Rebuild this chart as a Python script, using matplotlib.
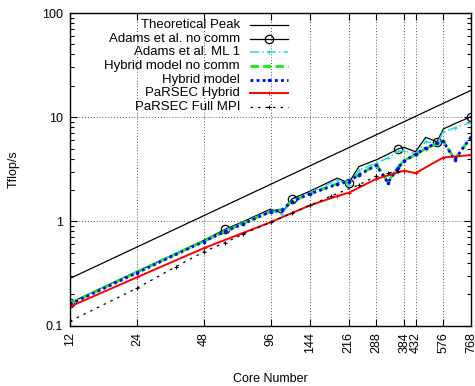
import matplotlib
matplotlib.use('Agg')
import matplotlib.pyplot as plt
from matplotlib.lines import Line2D
import matplotlib.ticker as mticker

plt.rcParams['font.family'] = ['Liberation Sans', 'DejaVu Sans']
plt.rcParams['font.size'] = 8.5

# x ticks shown on the axis
tick_cores = [12, 24, 48, 96, 144, 216, 288, 384, 432, 576, 768]

# theoretical peak (straight line)
peak_cores = [12, 768]
peak = [0.283, 18.1]

# Adams / hybrid model runs
cores = [12, 24, 48, 60, 72, 96, 108, 120, 144, 192, 216, 240, 288, 324, 360, 384, 432, 480, 540, 576, 648, 768]
adams_nocomm = [0.165, 0.33, 0.655, 0.84, 0.99, 1.31, 1.2, 1.645, 1.94, 2.6, 2.33, 3.35, 3.9, 4.4, 4.95, 5.13, 4.65, 6.4, 5.8, 7.7, 8.65, 10.1]
adams_ml1 = [0.165, 0.33, 0.65, 0.82, 0.97, 1.27, 1.18, 1.58, 1.88, 2.5, 2.25, 3.1, 3.63, 4.05, 4.7, 4.75, 4.45, 5.85, 5.55, 7.2, 7.9, 8.9]
hybrid_nocomm = [0.162, 0.325, 0.645, 0.8, 0.95, 1.24, 1.3, 1.56, 1.84, 2.3, 2.42, 2.8, 3.5, 2.4, 3.3, 3.85, 4.35, 5.0, 5.6, 5.9, 3.95, 6.4]
hybrid = [0.16, 0.32, 0.64, 0.8, 0.94, 1.24, 1.28, 1.55, 1.83, 2.27, 2.41, 2.8, 3.45, 2.35, 3.25, 3.8, 4.4, 5.05, 5.65, 5.85, 3.9, 6.45]
circle_idx = [0, 3, 7, 10, 14, 18, 21]

# PaRSEC runs
cores_parsec = [12, 24, 48, 96, 144, 192, 216, 288, 384, 432, 576, 768]
parsec_hybrid = [0.152, 0.29, 0.552, 0.98, 1.42, 1.75, 1.88, 2.56, 3.07, 2.9, 4.1, 4.33]
cores_mpi = [12, 24, 36, 48, 60, 72, 96, 120, 144, 180, 240, 288, 324, 360]
parsec_mpi = [0.11, 0.228, 0.367, 0.51, 0.625, 0.753, 0.98, 1.2, 1.42, 1.75, 2.24, 2.72, 2.9, 3.07]

fig = plt.figure(figsize=(4.75, 3.86), dpi=100)
ax = fig.add_axes([70 / 475, 1 - 325.5 / 386, 401 / 475, 312.5 / 386])

styles = [
    dict(color='black', lw=0.9, ls='-'),
    dict(color='black', lw=0.9, ls='-', marker='o', ms=6, mfc='none', mew=0.9),
    dict(color='#22dddd', lw=1.1, ls=(0, (6, 2, 1, 2)), marker='+', ms=3, mew=0.8),
    dict(color='#11ee11', lw=2.0, ls=(0, (3, 1.5)), marker='+', ms=3, mew=1),
    dict(color='#0000ff', lw=2.0, ls=(0, (1, 1.2)), marker='o', ms=2.5, mew=0),
    dict(color='#ff0000', lw=1.4, ls='-', marker='+', ms=3, mew=0.8),
    dict(color='black', lw=0.9, ls=(0, (2, 4)), marker='+', ms=3, mew=0.8),
]
labels = ["Theoretical Peak", "Adams et al. no comm", "Adams et al. ML 1",
          "Hybrid model no comm", "Hybrid model", "PaRSEC Hybrid", "PaRSEC Full MPI"]

ax.plot(peak_cores, peak, **styles[0])
ax.plot(cores, adams_nocomm, markevery=circle_idx, **styles[1])
ax.plot(cores, adams_ml1, **styles[2])
ax.plot(cores, hybrid_nocomm, **styles[3])
ax.plot(cores, hybrid, **styles[4])
ax.plot(cores_parsec, parsec_hybrid, **styles[5])
ax.plot(cores_mpi, parsec_mpi, **styles[6])

ax.set_xscale('log')
ax.set_yscale('log')
ax.set_xlim(12, 768)
ax.set_ylim(0.1, 100)

ax.xaxis.set_major_locator(mticker.FixedLocator(tick_cores))
ax.xaxis.set_major_formatter(mticker.FixedFormatter([str(c) for c in tick_cores]))
ax.xaxis.set_minor_locator(mticker.NullLocator())
ax.yaxis.set_major_locator(mticker.FixedLocator([0.1, 1, 10, 100]))
ax.yaxis.set_major_formatter(mticker.FixedFormatter(['0.1', '1', '10', '100']))
ax.yaxis.set_minor_locator(mticker.LogLocator(base=10, subs=range(2, 10)))
ax.yaxis.set_minor_formatter(mticker.NullFormatter())

ax.tick_params(which='both', direction='in', top=True, right=True, width=0.8)
ax.tick_params(which='major', length=5, pad=5, labelsize=9)
ax.tick_params(which='minor', length=3)
for lbl in ax.get_xticklabels():
    lbl.set_rotation(90)

ax.grid(True, which='major', color='#555555', ls=(0, (1, 2)), lw=0.7)
for s in ax.spines.values():
    s.set_linewidth(1.0)

ax.set_xlabel("Core Number", fontsize=9, labelpad=14)
ax.set_ylabel("Tflop/s", fontsize=9, labelpad=16)

# gnuplot style key: right aligned text, sample line on the right
y0 = 0.9616
dy = 0.0438
for i, (lab, st) in enumerate(zip(labels, styles)):
    y = y0 - i * dy
    ax.text(0.424, y, lab, transform=ax.transAxes, ha='right', va='center', fontsize=9.5)
    st = dict(st)
    mk = st.pop('marker', None)
    ms = st.pop('ms', None)
    mfc = st.pop('mfc', None)
    mew = st.pop('mew', None)
    ax.add_line(Line2D([0.449, 0.544], [y, y], transform=ax.transAxes, **st))
    if mk is not None:
        kw = dict(color=st['color'], marker=mk, ms=ms, ls='none')
        if mfc is not None:
            kw['mfc'] = mfc
        if mew is not None:
            kw['mew'] = mew
        ax.add_line(Line2D([0.4965], [y], transform=ax.transAxes, **kw))

fig.savefig('out.png', dpi=100)
